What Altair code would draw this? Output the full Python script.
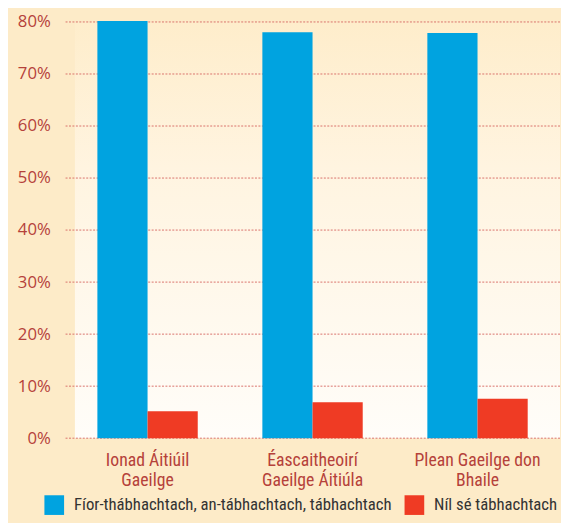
import altair as alt
import pandas as pd

categories = ["Ionad Áitiúil\nGaeilge", "Éascaitheoirí\nGaeilge Áitiúla", "Plean Gaeilge don\nBhaile"]
series = ["Fíor-thábhachtach, an-tábhachtach, tábhachtach", "Níl sé tábhachtach"]
important = [80.2, 78.0, 77.9]
not_important = [5.2, 6.9, 7.6]
yticks = [0, 10, 20, 30, 40, 50, 60, 70, 80]

colors = ["#00A3E0", "#EF3B24"]
LABEL_RED = "#B5413A"
W, H = 503, 423
COND = "Liberation Sans Narrow, Roboto Condensed, DejaVu Sans Condensed, Arial Narrow, sans-serif"

rows = []
for i, c in enumerate(categories):
    rows.append({"cat": c, "series": series[0], "value": important[i]})
    rows.append({"cat": c, "series": series[1], "value": not_important[i]})
df = pd.DataFrame(rows)
ticks_df = pd.DataFrame({"t": yticks})

ysc = alt.Scale(domain=[0, 80], nice=False, zero=True)

bg = alt.Chart(pd.DataFrame({"a": [0]})).mark_rect(
    color=alt.Gradient(
        gradient="linear",
        stops=[alt.GradientStop(color="#FEEDCB", offset=0),
               alt.GradientStop(color="#FFF4E0", offset=0.35),
               alt.GradientStop(color="#FFFDF9", offset=1)],
        x1=0, x2=0, y1=0, y2=1,
    )
).encode(
    x=alt.value(10), x2=alt.value(W),
    y=alt.value(0), y2=alt.value(H),
)

grid = alt.Chart(ticks_df).mark_rule(
    color="#D9716B", strokeDash=[2, 1.5], strokeWidth=1
).encode(y=alt.Y("t:Q", scale=ysc))

bars = alt.Chart(df).mark_bar().encode(
    x=alt.X("cat:N", sort=categories, title=None,
            scale=alt.Scale(paddingInner=0.0, paddingOuter=0.0),
            axis=alt.Axis(labelAngle=0, labelExpr="split(datum.label, '\\n')",
                          labelFont=COND, labelFontSize=18, labelColor=LABEL_RED,
                          labelLineHeight=20, labelPadding=14, domain=False, ticks=False)),
    xOffset=alt.XOffset("series:N", sort=series,
                        scale=alt.Scale(paddingInner=0, paddingOuter=0.644)),
    y=alt.Y("value:Q", scale=ysc, title=None,
            axis=alt.Axis(values=yticks, labelExpr="datum.value + '%'", grid=False,
                          domain=False, ticks=False, labelFont="Open Sans",
                          labelFontSize=17, labelColor=LABEL_RED, labelPadding=15)),
    color=alt.Color("series:N", sort=series,
                    scale=alt.Scale(domain=series, range=colors),
                    legend=alt.Legend(title=None, orient="none", legendX=-21, legendY=481,
                                      direction="horizontal", symbolType="square",
                                      symbolSize=400, symbolStrokeWidth=0, symbolOpacity=1,
                                      labelFont=COND, labelFontSize=17, labelColor="#333333",
                                      labelLimit=400, columnPadding=12, labelOffset=10)),
)

chart = alt.layer(bg, grid, bars).properties(
    width=W, height=H, background="#FDEBC8",
    padding={"left": 9, "top": 1, "right": 0, "bottom": 4},
).configure_view(stroke=None)

chart.save("out.html", embed_options={"renderer": "svg", "actions": False})
